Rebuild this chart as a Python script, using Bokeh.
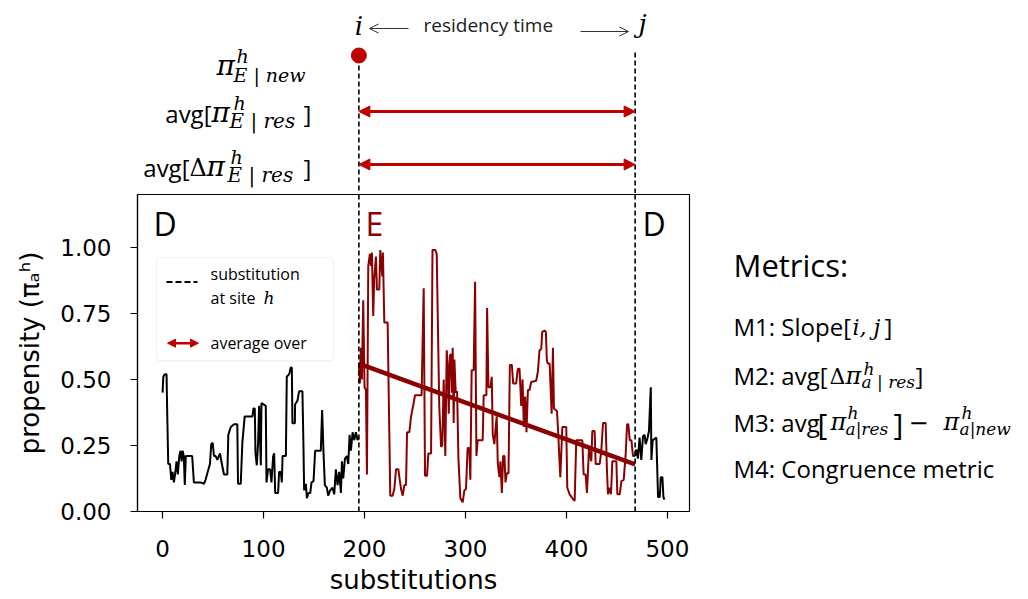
from bokeh.plotting import figure
from bokeh.layouts import column, row
from bokeh.models import (Label, Arrow, NormalHead, OpenHead, BoxAnnotation, Span,
                          FixedTicker, Range1d, PrintfTickFormatter)
from bokeh.embed import file_html
from bokeh.resources import INLINE

# ---------------- data ----------------
black1_x = [0, 0.7, 2.3, 3.9, 4.6, 5.6, 7.3, 8.6, 9.9, 11.2, 12.5, 13.8, 15.1, 16.5, 17.8, 18.8,
            19.8, 21.0, 22.0, 23.0, 29.3, 31.0, 37.6, 40.9, 42.6, 44.3, 46.9, 48.2, 49.6, 50.9,
            52.6, 54.2, 56.9, 58.2, 60.8, 64.1, 65.1, 67.5, 70.8, 74.0, 74.7, 77.4, 79.0, 81.3,
            89.0, 90.0, 91.3, 92.0, 93.3, 94.6, 95.6, 97.3, 97.9, 102.2, 102.9, 104.5, 106.5,
            107.8, 109.5, 110.5, 111.5, 114.4, 115.4, 117.1, 118.1, 118.8, 122.1, 123.0, 125.4,
            127.0, 128.0, 128.6, 131.0, 131.2, 133.6, 135.2, 138.5, 139.5, 140.2, 141.9, 142.9,
            144.5, 146.2, 147.5, 149.5, 151.1, 156.7, 158.0, 159.4, 160.7, 162.7, 164.0, 166.0,
            168.3, 170.0, 171.6, 173.3, 174.9, 176.6, 177.6, 178.9, 180.6, 182.5, 183.9, 185.2,
            186.5, 188.2, 189.8, 191.5, 193.1, 194.4]
black1_y = [0.45, 0.51, 0.52, 0.52, 0.37, 0.18, 0.18, 0.12, 0.15, 0.11, 0.145, 0.19, 0.14, 0.21,
            0.23, 0.19, 0.23, 0.21, 0.10, 0.21, 0.21, 0.11, 0.11, 0.105, 0.12, 0.145, 0.18, 0.255,
            0.26, 0.21, 0.21, 0.195, 0.22, 0.19, 0.14, 0.14, 0.29, 0.32, 0.33, 0.33, 0.105, 0.105,
            0.26, 0.36, 0.36, 0.39, 0.39, 0.22, 0.175, 0.26, 0.40, 0.175, 0.41, 0.40, 0.11, 0.16,
            0.16, 0.11, 0.21, 0.22, 0.07, 0.07, 0.15, 0.15, 0.11, 0.21, 0.21, 0.51, 0.52, 0.545,
            0.545, 0.334, 0.334, 0.405, 0.42, 0.455, 0.455, 0.25, 0.08, 0.105, 0.05, 0.07, 0.07,
            0.11, 0.116, 0.23, 0.23, 0.384, 0.22, 0.10, 0.09, 0.06, 0.08, 0.09, 0.065, 0.16, 0.10,
            0.15, 0.07, 0.19, 0.125, 0.20, 0.21, 0.18, 0.29, 0.23, 0.30, 0.27, 0.30, 0.27, 0.28]

red_x = [194.4, 195.4, 196.4, 197.4, 198.7, 200.0, 201.4, 202.4, 203.7, 205.3, 206.3, 207.3,
         208.6, 209.6, 211.3, 212.3, 214.6, 215.6, 217.6, 218.2, 219.6, 222.9, 225.5, 227.8,
         229.5, 231.2, 233.5, 234.5, 236.2, 237.8, 239.5, 241.1, 242.1, 244.4, 246.1, 248.4,
         250.0, 256.5, 258.6, 259.9, 261.9, 263.2, 265.9, 267.3, 270.0, 271.5, 272.5, 274.0,
         275.8, 277.0, 278.4, 280.0, 281.4, 282.4, 283.4, 284.7, 285.7, 286.7, 287.3, 288.3,
         289.0, 290.3, 291.7, 293.0, 294.9, 297.2, 298.9, 300.5, 302.1, 303.8, 304.8, 306.1,
         308.1, 309.5, 310.8, 312.1, 317.0, 318.0, 320.7, 321.4, 322.7, 324.7, 326.0, 327.0,
         328.6, 329.6, 330.9, 332.0, 333.6, 334.6, 336.0, 337.3, 338.6, 339.6, 340.9, 342.6,
         343.9, 345.9, 347.2, 350.2, 351.8, 353.5, 355.2, 356.5, 357.8, 359.1, 360.4, 361.8,
         363.4, 365.1, 370.0, 371.7, 373.3, 375.0, 376.0, 378.3, 379.6, 380.6, 381.6, 383.3,
         384.3, 385.3, 386.6, 387.6, 390.6, 391.5, 393.9, 395.9, 399.8, 400.8, 403.2, 405.8,
         408.1, 409.7, 415.7, 417.0, 419.0, 420.3, 422.3, 424.6, 425.6, 427.9, 428.9, 432.9,
         434.5, 436.2, 438.8, 440.1, 441.1, 442.8, 444.1, 445.4, 449.4, 450.4, 452.7, 454.4,
         456.7, 458.7, 460.0, 461.3, 462.6, 464.3, 465.9, 468.0]
red_y = [0.56, 0.485, 0.62, 0.50, 0.80, 0.47, 0.46, 0.14, 0.93, 0.975, 0.93, 0.98, 0.74, 0.88,
         0.965, 0.84, 0.84, 0.99, 0.89, 0.98, 0.715, 0.715, 0.06, 0.06, 0.085, 0.16, 0.16, 0.13,
         0.085, 0.06, 0.10, 0.10, 0.30, 0.30, 0.36, 0.405, 0.44, 0.44, 0.845, 0.135, 0.135, 0.22,
         0.22, 0.99, 0.99, 0.975, 0.745, 0.40, 0.245, 0.25, 0.50, 0.21, 0.61, 0.56, 0.37, 0.59,
         0.596, 0.45, 0.62, 0.335, 0.575, 0.45, 0.455, 0.20, 0.05, 0.035, 0.08, 0.085, 0.24, 0.24,
         0.12, 0.535, 0.535, 0.87, 0.21, 0.27, 0.27, 0.44, 0.44, 0.77, 0.47, 0.47, 0.51, 0.29,
         0.255, 0.305, 0.36, 0.18, 0.13, 0.19, 0.07, 0.21, 0.21, 0.11, 0.145, 0.145, 0.555, 0.555,
         0.485, 0.485, 0.54, 0.54, 0.40, 0.50, 0.32, 0.435, 0.30, 0.46, 0.46, 0.49, 0.495, 0.53,
         0.61, 0.615, 0.68, 0.685, 0.68, 0.57, 0.56, 0.56, 0.47, 0.37, 0.62, 0.39, 0.38, 0.32,
         0.13, 0.32, 0.32, 0.09, 0.065, 0.05, 0.04, 0.27, 0.27, 0.14, 0.14, 0.07, 0.235, 0.19,
         0.305, 0.305, 0.18, 0.18, 0.23, 0.335, 0.335, 0.155, 0.065, 0.09, 0.065, 0.19, 0.19,
         0.065, 0.065, 0.115, 0.12, 0.22, 0.33, 0.33, 0.27, 0.27, 0.21, 0.21]

black2_x = [468.0, 469.2, 470.8, 472.4, 474.1, 475.8, 477.4, 478.4, 480.1, 481.7, 483.5, 484.1,
            485.4, 487.4, 489.0, 490.7, 492.4, 493.4, 495.0, 496.0, 497.0]
black2_y = [0.21, 0.235, 0.20, 0.28, 0.195, 0.285, 0.29, 0.255, 0.275, 0.305, 0.47, 0.195,
            0.27, 0.275, 0.28, 0.055, 0.055, 0.13, 0.13, 0.055, 0.045]

sub_i = 194.4          # substitution at site h (start of residency)
sub_j = 468.0          # next substitution (end of residency)
fit_y = [0.56, 0.178]  # regression line values at i and j

x_ticks = [0, 100, 200, 300, 400, 500]
y_ticks = [0.0, 0.25, 0.5, 0.75, 1.0]

# ---------------- geometry (page pixels) ----------------
TOTAL_W, TOTAL_H = 1024, 597
FL, FR = 137, 689          # main frame left / right
FT, FB = 194, 516          # main frame top / bottom
TOP_H = FT - 1             # height of top annotation strip
MAIN_W = 700
MAIN_H = TOTAL_H - TOP_H
X0, X1 = -24.85, 521.85
Y0, Y1 = 0.0, 1.2
DARKRED = "#8B0000"
RED = "#C00000"
MATH = "DejaVu Serif"
SANS = "Open Sans"
BASE_FIX = 0.36            # empirical shift so that y is the text baseline


def DX(px):
    return X0 + (px - FL) / (FR - FL) * (X1 - X0)


def DYM(py):
    return Y0 + (FB - py) / (FB - FT) * (Y1 - Y0)


# ---------------- main plot ----------------
main = figure(width=MAIN_W, height=MAIN_H, x_range=Range1d(X0, X1), y_range=Range1d(Y0, Y1),
              output_backend="svg", toolbar_location=None,
              min_border_left=FL, min_border_right=MAIN_W - FR, min_border_top=FT - TOP_H,
              min_border_bottom=MAIN_H - (FB - TOP_H))
main.xgrid.visible = False
main.ygrid.visible = False
main.outline_line_color = "black"
main.outline_line_width = 1.2

for ax in (main.xaxis[0], main.yaxis[0]):
    ax.axis_line_color = "black"
    ax.axis_line_width = 1.2
    ax.major_tick_line_color = "black"
    ax.major_tick_line_width = 1.2
    ax.major_tick_out = 7
    ax.major_tick_in = 0
    ax.minor_tick_line_color = None
    ax.major_label_text_font = "DejaVu Sans"
    ax.major_label_text_font_size = "23px"
    ax.major_label_text_color = "black"
    ax.axis_label_text_font = "DejaVu Sans"
    ax.axis_label_text_font_size = "26px"
    ax.axis_label_text_font_style = "normal"
    ax.axis_label_text_color = "black"

main.xaxis.ticker = FixedTicker(ticks=x_ticks)
main.yaxis.ticker = FixedTicker(ticks=y_ticks)
main.yaxis.formatter = PrintfTickFormatter(format="%.2f")
main.xaxis.axis_label = "substitutions"
main.yaxis.axis_label = "propensity (πₐʰ)"
main.xaxis.major_label_standoff = 21
main.yaxis.major_label_standoff = 19
main.xaxis.axis_label_standoff = 5
main.yaxis.axis_label_standoff = 12

main.line(black1_x, black1_y, line_color="black", line_width=2)
main.line(red_x, red_y, line_color=DARKRED, line_width=2)
main.line(black2_x, black2_y, line_color="black", line_width=2)
main.line([sub_i, sub_j], fit_y, line_color=DARKRED, line_width=4.5)

for s in (sub_i, sub_j):
    main.add_layout(Span(location=s, dimension="height", line_color="black",
                         line_width=1.6, line_dash="5 3"))


def label(fig, x, y, s, size, font=SANS, color="black", style="normal", align="left",
          ymap=None):
    yb = y - BASE_FIX * size
    fig.add_layout(Label(x=x, y=ymap(yb) if ymap else yb, text=s, text_font=font,
                         text_font_size=f"{size}px", text_color=color,
                         text_font_style=style, text_align=align,
                         text_baseline="alphabetic"))


def double_arrow(fig, x0, x1, y, width=3, size=11, color=RED):
    fig.add_layout(Arrow(start=NormalHead(size=size, fill_color=color, line_color=color),
                         end=NormalHead(size=size, fill_color=color, line_color=color),
                         x_start=x0, y_start=y, x_end=x1, y_end=y,
                         line_color=color, line_width=width))


# regime letters
label(main, DX(153), 235, "D", 32, ymap=DYM)
label(main, DX(365), 235, "E", 32, color=DARKRED, ymap=DYM)
label(main, DX(642), 235, "D", 32, ymap=DYM)

# legend
main.add_layout(BoxAnnotation(left=DX(156), right=DX(333), top=DYM(258), bottom=DYM(363),
                              fill_color="white", fill_alpha=1.0, line_color="#cccccc",
                              line_width=1.2, border_radius=4))
main.add_layout(Arrow(start=None, end=None, x_start=DX(166), y_start=DYM(283), x_end=DX(197),
                      y_end=DYM(283), line_color="black", line_width=2, line_dash="6 3"))
label(main, DX(210), 281, "substitution", 16, ymap=DYM)
label(main, DX(210), 305, "at site", 16, ymap=DYM)
label(main, DX(263), 305, "h", 17, font=MATH, style="italic", ymap=DYM)
double_arrow(main, DX(167), DX(198), DYM(345), width=2.5, size=8)
label(main, DX(210), 351, "average over", 16, ymap=DYM)

# ---------------- top annotation strip ----------------
top = figure(width=MAIN_W, height=TOP_H, x_range=main.x_range, y_range=Range1d(TOP_H, 0),
             output_backend="svg", toolbar_location=None, x_axis_type=None, y_axis_type=None,
             min_border_left=FL, min_border_right=MAIN_W - FR, min_border_top=0,
             min_border_bottom=0)
top.outline_line_color = None
top.grid.visible = False

top.segment(x0=[sub_i, sub_j], y0=[65, 52], x1=[sub_i, sub_j], y1=[TOP_H, TOP_H],
            line_color="black", line_width=1.6, line_dash="5 3")
top.scatter([sub_i], [55], size=15, fill_color=RED, line_color=RED)

label(top, sub_i, 35, "i", 26, font=MATH, style="italic", align="center")
top.add_layout(Arrow(end=OpenHead(size=9, line_color="#333333", line_width=1), start=None,
                     x_start=DX(408), y_start=28, x_end=DX(369), y_end=28,
                     line_color="#333333", line_width=1))
label(top, DX(423), 31, "residency time", 19, color="#222222")
top.add_layout(Arrow(end=OpenHead(size=9, line_color="#333333", line_width=1), start=None,
                     x_start=DX(580), y_start=31, x_end=DX(628), y_end=31,
                     line_color="#333333", line_width=1))
label(top, DX(642), 33, "j", 26, font=MATH, style="italic", align="center")

# row 1: pi^h_{E|new}
label(top, DX(216), 75, "π", 28, font=MATH, style="italic")
label(top, DX(236), 62, "h", 19, font=MATH, style="italic")
label(top, DX(233), 81, "E | new", 19, font=MATH, style="italic")

# row 2: avg[pi^h_{E|res}]
label(top, DX(211), 122, "avg[", 24, align="right")
label(top, DX(211), 122, "π", 28, font=MATH, style="italic")
label(top, DX(233), 109, "h", 19, font=MATH, style="italic")
label(top, DX(229), 128, "E | res", 20, font=MATH, style="italic")
label(top, DX(303), 122, "]", 24)
double_arrow(top, sub_i, sub_j, 111)

# row 3: avg[Delta pi^h_{E|res}]
label(top, DX(189), 176, "avg[", 24, align="right")
label(top, DX(189), 176, "Δ", 24, font=MATH)
label(top, DX(206), 176, "π", 28, font=MATH, style="italic")
label(top, DX(230), 163, "h", 19, font=MATH, style="italic")
label(top, DX(227), 182, "E | res", 20, font=MATH, style="italic")
label(top, DX(303), 176, "]", 24)
double_arrow(top, sub_i, sub_j, 164)

# ---------------- right metrics panel ----------------
RW = TOTAL_W - MAIN_W
side = figure(width=RW, height=MAIN_H, x_range=Range1d(MAIN_W, TOTAL_W),
              y_range=Range1d(FB, FT), output_backend="svg", toolbar_location=None,
              x_axis_type=None, y_axis_type=None, min_border_left=0, min_border_right=0,
              min_border_top=0, min_border_bottom=0)
side.outline_line_color = None
side.grid.visible = False

label(side, 733, 277, "Metrics:", 31)
label(side, 733, 337, "M1: Slope[", 24)
label(side, 852, 337, "i, j", 22, font=MATH, style="italic")
label(side, 884, 337, "]", 24)

label(side, 733, 387, "M2: avg[", 24)
label(side, 829, 387, "Δ", 22, font=MATH)
label(side, 845, 387, "π", 24, font=MATH, style="italic")
label(side, 863, 377, "h", 17, font=MATH, style="italic")
label(side, 861, 391, "a | res", 17, font=MATH, style="italic")
label(side, 915, 387, "]", 24)

label(side, 733, 434, "M3: avg", 24)
label(side, 817, 437, "[", 30)
label(side, 830, 434, "π", 24, font=MATH, style="italic")
label(side, 847, 422, "h", 17, font=MATH, style="italic")
label(side, 845, 438, "a|res", 17, font=MATH, style="italic")
label(side, 893, 437, "]", 30)
label(side, 908, 434, "−", 24, font=MATH)
label(side, 943, 434, "π", 24, font=MATH, style="italic")
label(side, 961, 422, "h", 17, font=MATH, style="italic")
label(side, 959, 438, "a|new", 17, font=MATH, style="italic")

label(side, 733, 481, "M4: Congruence  metric", 24)

layout = column(top, row(main, side, spacing=0), spacing=0)
open("out.html", "w").write(file_html(layout, INLINE))
